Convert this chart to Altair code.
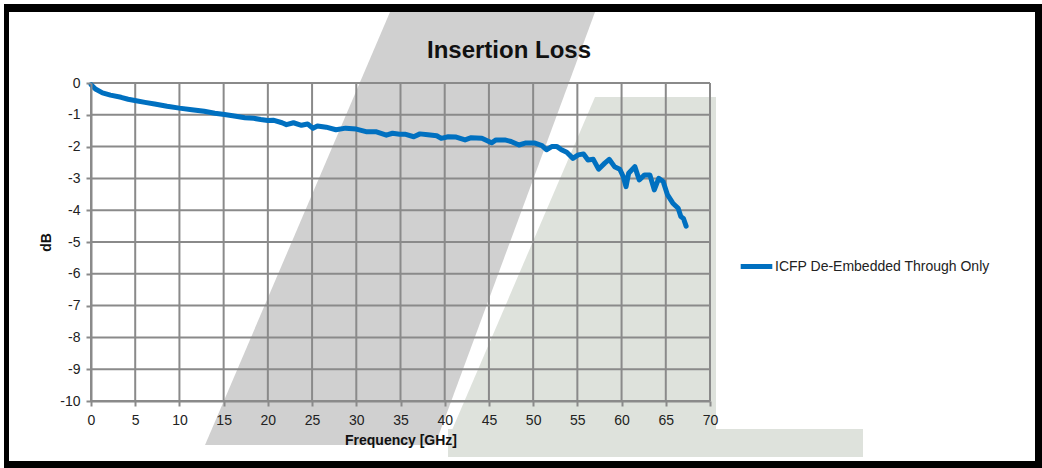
import altair as alt
import pandas as pd

# ---------------- data ----------------
chart_title = "Insertion Loss"
series_name = "ICFP De-Embedded Through Only"
freq_ghz = [0, 0.1, 0.5, 1.3, 2.2, 3.4, 4.2, 5.1, 6.1, 7.2, 8.6, 10, 11.4, 12.8, 14,
            15.1, 16.2, 17.4, 18.4, 19.2, 20, 20.6, 21.6, 22.1, 22.9, 23.8, 24.5,
            25.1, 25.6, 26.6, 27.7, 28.8, 30, 31.1, 32.2, 33.4, 34.1, 34.9, 35.5,
            36.5, 37.2, 38.1, 39.1, 39.6, 40.4, 41.3, 42.3, 43, 44.2, 45.3, 45.8,
            46.8, 47.5, 48.4, 49.1, 50.2, 51, 51.5, 52.1, 52.7, 53.2, 53.8, 54.5,
            55.1, 55.7, 56.2, 56.8, 57.4, 58.1, 58.6, 59.2, 59.8, 60.2, 60.5, 60.8,
            61.5, 62, 62.6, 63.2, 63.7, 64.2, 64.7, 65.2, 65.8, 66.4, 66.7, 67, 67.3]
loss_db = [-0.05, -0.08, -0.19, -0.31, -0.38, -0.45, -0.51, -0.56, -0.61, -0.66,
           -0.73, -0.79, -0.84, -0.89, -0.95, -0.99, -1.04, -1.09, -1.11, -1.15,
           -1.18, -1.17, -1.25, -1.31, -1.25, -1.33, -1.29, -1.42, -1.35, -1.39,
           -1.47, -1.42, -1.45, -1.53, -1.53, -1.64, -1.58, -1.61, -1.61, -1.69,
           -1.60, -1.63, -1.66, -1.74, -1.69, -1.70, -1.79, -1.72, -1.74, -1.88,
           -1.79, -1.79, -1.84, -1.95, -1.89, -1.89, -1.97, -2.10, -2.00, -2.00,
           -2.10, -2.18, -2.37, -2.26, -2.23, -2.42, -2.40, -2.71, -2.52, -2.40,
           -2.63, -2.71, -2.95, -3.26, -2.84, -2.63, -3.05, -2.89, -2.89, -3.36,
           -3.00, -3.10, -3.52, -3.78, -3.94, -4.20, -4.26, -4.50]
x_ticks = list(range(0, 71, 5))
y_ticks = list(range(-10, 1))

# ---------------- layout ----------------
W, H = 619, 318
LEFT, TOP = 91, 83
CANVAS_W, CANVAS_H = 1042, 468
FONT = "Liberation Sans"
GRID = "#8a8a8a"
BLUE = "#0070C0"

xs = alt.Scale(domain=[0, 70], nice=False, zero=False)
ys = alt.Scale(domain=[-10, 0], nice=False, zero=False)
X_AX = alt.Axis(values=x_ticks, title="Frequency [GHz]", grid=False, labelPadding=7,
                titlePadding=6, labelFlush=False, labelOverlap=False, zindex=1)
Y_AX = alt.Axis(values=y_ticks, title="dB", grid=False, labelExpr="toString(datum.value)",
                labelPadding=6, titlePadding=6, labelOverlap=False, zindex=1)


def fx(px):
    return (px - LEFT) * 70 / W


def fy(py):
    return -(py - TOP) * 10 / H


# background watermark (decoration, page pixels converted to chart units)
grey_band = pd.DataFrame({"y": [fy(12), fy(445)], "x": [fx(390), fx(205)], "x2": [fx(595), fx(435)]})
green_band = pd.DataFrame({"y": [fy(97), fy(430)], "x": [fx(595), fx(452)], "x2": [fx(716), fx(716)]})
green_foot = pd.DataFrame({"x": [fx(448)], "x2": [fx(863)], "y": [fy(429)], "y2": [fy(457)]})
frame = pd.DataFrame({
    "x": [fx(4), fx(4), fx(1035), fx(4)],
    "x2": [fx(1042), fx(9), fx(1042), fx(1042)],
    "y": [fy(4), fy(4), fy(4), fy(461)],
    "y2": [fy(12), fy(468), fy(468), fy(468)],
})
title_df = pd.DataFrame({"x": [fx(509)], "y": [fy(58)], "t": [chart_title]})


def band(df, color):
    return alt.Chart(df).mark_area(orient="horizontal", color=color).encode(
        y=alt.Y("y:Q", scale=ys, axis=Y_AX),
        x=alt.X("x:Q", scale=xs, axis=X_AX),
        x2="x2:Q",
    )


def block(df, color):
    return alt.Chart(df).mark_rect(color=color).encode(
        x=alt.X("x:Q", scale=xs, axis=X_AX), x2="x2:Q",
        y=alt.Y("y:Q", scale=ys, axis=Y_AX), y2="y2:Q",
    )


grey = band(grey_band, "#d0d0d0")
green = band(green_band, "#dee2dc")
foot = block(green_foot, "#dee2dc")
border = block(frame, "#000000")

vgrid = alt.Chart(pd.DataFrame({"v": x_ticks})).mark_rule(color=GRID, strokeWidth=2).encode(
    x=alt.X("v:Q", scale=xs, axis=X_AX))
hgrid = alt.Chart(pd.DataFrame({"v": y_ticks})).mark_rule(color=GRID, strokeWidth=2).encode(
    y=alt.Y("v:Q", scale=ys, axis=Y_AX))

title = alt.Chart(title_df).mark_text(font=FONT, fontSize=24, fontWeight="bold", color="#111111",
                                      align="center", baseline="alphabetic").encode(
    x=alt.X("x:Q", scale=xs, axis=X_AX), y=alt.Y("y:Q", scale=ys, axis=Y_AX), text="t:N")

data = pd.DataFrame({"f": freq_ghz, "db": loss_db, "s": series_name})
line = alt.Chart(data).mark_line(strokeWidth=5, strokeJoin="round", strokeCap="round").encode(
    x=alt.X("f:Q", scale=xs, axis=X_AX),
    y=alt.Y("db:Q", scale=ys, axis=Y_AX),
    color=alt.Color("s:N", scale=alt.Scale(range=[BLUE]), legend=alt.Legend(
        orient="none", legendX=647, legendY=165, title=None, symbolType="stroke",
        symbolSize=1000, symbolStrokeWidth=5, symbolStrokeColor=BLUE, labelFont=FONT,
        labelFontSize=14, labelColor="#222222", labelOffset=0, padding=0, labelLimit=400)),
    order="f:Q",
)

chart = alt.layer(grey, green, foot, vgrid, hgrid, line, title, border).properties(
    width=W, height=H,
    padding={"left": LEFT, "top": TOP, "right": CANVAS_W - LEFT - W, "bottom": CANVAS_H - TOP - H},
    autosize=alt.AutoSizeParams(type="none"),
    background="white",
).configure_view(stroke=None).configure_axis(
    labelFont=FONT, labelFontSize=14, labelColor="#222222",
    titleFont=FONT, titleFontSize=14, titleFontWeight="bold", titleColor="#111111",
    tickColor=GRID, tickWidth=2, tickSize=5, domainColor=GRID, domainWidth=2,
)

chart.save("out.html", embed_options={"renderer": "svg", "actions": False})
